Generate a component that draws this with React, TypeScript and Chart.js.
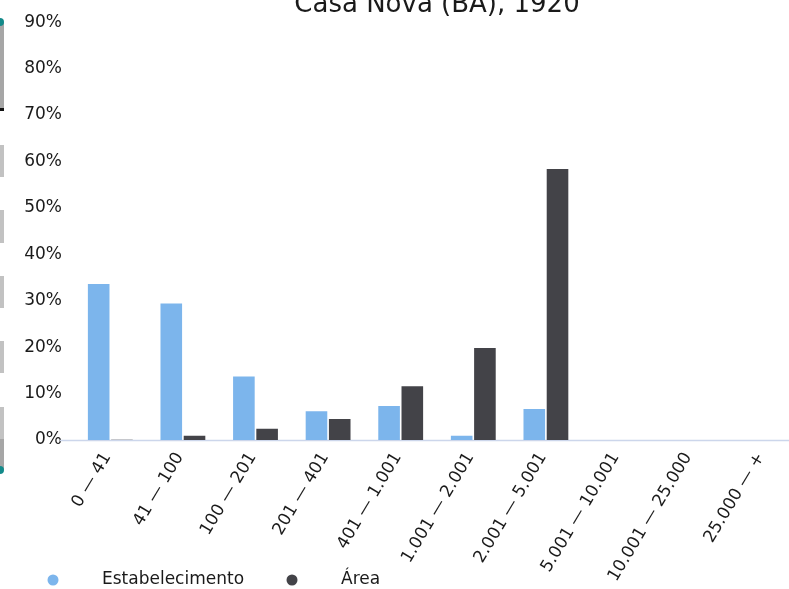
import React, { useEffect, useRef } from "react";
import { Chart, registerables } from "chart.js";

Chart.register(...registerables);

const titleText = "Casa Nova (BA), 1920";
const categories = [
  "0 — 41",
  "41 — 100",
  "100 — 201",
  "201 — 401",
  "401 — 1.001",
  "1.001 — 2.001",
  "2.001 — 5.001",
  "5.001 — 10.001",
  "10.001 — 25.000",
  "25.000 — +",
];
const estabelecimento = [33.6, 29.4, 13.7, 6.2, 7.3, 0.9, 6.7, 0, 0, 0];
const area = [0.05, 0.9, 2.4, 4.5, 11.6, 19.8, 58.4, 0, 0, 0];
const seriesNames = ["Estabelecimento", "Área"];
const seriesColors = ["#7cb5ec", "#434348"];
const yTicks = [0, 10, 20, 30, 40, 50, 60, 70, 80, 90];

const FONT = "'DejaVu Sans', sans-serif";
const TEXT = "#1a1a1a";

const overlayPlugin = {
  id: "overlay",
  beforeDatasetsDraw(chart: any) {
    const ctx = chart.ctx;
    const y = chart.chartArea.bottom;
    ctx.save();
    ctx.strokeStyle = "#ccd6eb";
    ctx.lineWidth = 1.5;
    ctx.beginPath();
    ctx.moveTo(60, y + 0.5);
    ctx.lineTo(chart.width, y + 0.5);
    ctx.stroke();
    ctx.restore();
  },
  afterDraw(chart: any) {
    const ctx = chart.ctx;
    ctx.save();
    // title
    ctx.font = `26px ${FONT}`;
    ctx.fillStyle = TEXT;
    ctx.textAlign = "center";
    ctx.textBaseline = "alphabetic";
    ctx.fillText(titleText, 437, 12);
    // legend
    const items = [
      { cx: 53, tx: 102 },
      { cx: 292, tx: 341 },
    ];
    ctx.font = `17px ${FONT}`;
    ctx.textAlign = "left";
    ctx.textBaseline = "middle";
    items.forEach((it, i) => {
      ctx.fillStyle = seriesColors[i];
      ctx.beginPath();
      ctx.arc(it.cx, 580, 5.5, 0, Math.PI * 2);
      ctx.fill();
      ctx.fillStyle = TEXT;
      ctx.fillText(seriesNames[i], it.tx, 580);
    });
    ctx.restore();
  },
};

function Decor() {
  const seg = (top: number, bottom: number, color: string) => (
    <div
      key={top}
      style={{
        position: "absolute",
        left: 0,
        top,
        width: 4,
        height: bottom - top,
        background: color,
      }}
    />
  );
  const dot = (y: number) => (
    <div
      key={"d" + y}
      style={{
        position: "absolute",
        left: -4,
        top: y - 4,
        width: 8,
        height: 8,
        borderRadius: 4,
        background: "#138a8a",
      }}
    />
  );
  return (
    <>
      {seg(22, 110, "#a6a6a6")}
      {seg(145, 177, "#c2c2c2")}
      {seg(210, 243, "#c2c2c2")}
      {seg(276, 308, "#c2c2c2")}
      {seg(341, 373, "#c2c2c2")}
      {seg(407, 439, "#c2c2c2")}
      {seg(439, 470, "#a6a6a6")}
      <div
        style={{
          position: "absolute",
          left: 0,
          top: 108,
          width: 4,
          height: 3,
          background: "#111",
        }}
      />
      {dot(22)}
      {dot(470)}
    </>
  );
}

export default function App() {
  const ref = useRef<HTMLCanvasElement>(null);
  useEffect(() => {
    if (!ref.current) return;
    const chart = new Chart(ref.current, {
      type: "bar",
      data: {
        labels: categories,
        datasets: [
          {
            label: seriesNames[0],
            data: estabelecimento,
            backgroundColor: seriesColors[0],
            categoryPercentage: 0.64,
            barPercentage: 0.93,
          },
          {
            label: seriesNames[1],
            data: area,
            backgroundColor: seriesColors[1],
            categoryPercentage: 0.64,
            barPercentage: 0.93,
          },
        ],
      },
      options: {
        responsive: false,
        animation: false,
        layout: { padding: { top: 21, right: 10, left: 0, bottom: 0 } },
        plugins: {
          legend: { display: false },
          title: { display: false },
          tooltip: { enabled: false },
        },
        scales: {
          x: {
            grid: { display: false },
            border: { display: false },
            ticks: {
              autoSkip: false,
              minRotation: 59,
              maxRotation: 59,
              color: TEXT,
              padding: 1,
              labelOffset: -3,
              font: { family: FONT, size: 17 },
            },
            afterFit: (s: any) => {
              s.height = 149;
            },
          },
          y: {
            min: 0,
            max: 90,
            grid: { display: false, drawTicks: false },
            border: { display: false },
            afterBuildTicks: (s: any) => {
              s.ticks = yTicks.map((v) => ({ value: v }));
            },
            ticks: {
              color: TEXT,
              padding: 12,
              font: { family: FONT, size: 17 },
              callback: (v: any) => v + "%",
            },
            afterFit: (s: any) => {
              s.width = 74;
            },
          },
        },
      },
      plugins: [overlayPlugin],
    });
    return () => chart.destroy();
  }, []);
  return (
    <div
      style={{
        position: "fixed",
        left: 0,
        top: 0,
        width: 789,
        height: 589,
        overflow: "hidden",
        background: "#fff",
      }}
    >
      <canvas
        ref={ref}
        width={810}
        height={589}
        style={{ position: "absolute", left: 0, top: 0, width: 810, height: 589 }}
      />
      <Decor />
    </div>
  );
}
